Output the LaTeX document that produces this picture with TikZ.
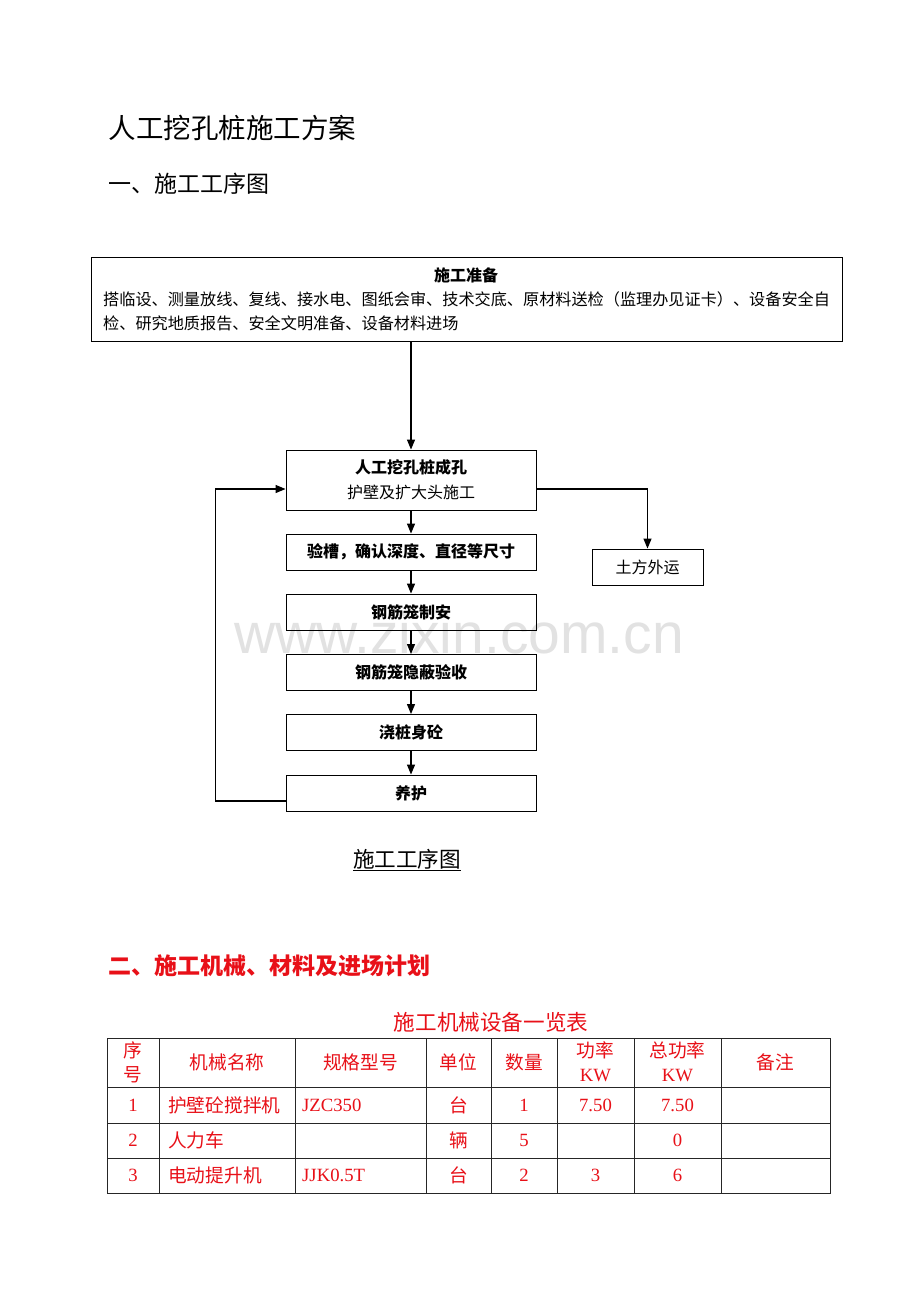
\documentclass[tikz,border=0pt]{standalone}
\usepackage{fontspec}
\setmainfont{Liberation Serif}
\setsansfont{Liberation Sans}
\newfontfamily\cjk{Noto Sans CJK SC}
\usetikzlibrary{arrows.meta}
\definecolor{planred}{RGB}{232,16,24}
\definecolor{markgray}{RGB}{226,226,226}

\begin{document}
\begin{tikzpicture}[x=1pt,y=-1pt,
    box/.style={draw,line width=0.9pt,inner sep=0pt,font=\cjk\fontsize{16}{25}\selectfont},
    flow/.style={-{Triangle[length=10pt,width=8pt]},line width=1.2pt},
    cell/.style={text=planred,inner sep=0pt,align=center,font=\fontsize{18.7}{24}\selectfont}]
  \useasboundingbox[fill=white] (0,0) rectangle (920,1302);

  \node[markgray,font=\sffamily\fontsize{57}{57}\selectfont] (mark) at (459,633) {www.zixin.com.cn};

  \node[anchor=west,font=\cjk\fontsize{27.5}{30}\selectfont] (title) at (105,128) {人工挖孔桩施工方案};
  \node[anchor=west,font=\cjk\fontsize{23}{26}\selectfont] (sec1) at (105,184) {一、施工工序图};

  \begin{scope}
    \node[box,minimum width=751pt,minimum height=84pt] (prep) at (466.5,299) {};
    \node[font=\cjk\bfseries\fontsize{16}{16}\selectfont] (preptitle) at (466,275) {施工准备};
    \node[anchor=west,inner sep=0pt,font=\cjk\fontsize{16.15}{16}\selectfont] (prepa) at (103,299) {搭临设、测量放线、复线、接水电、图纸会审、技术交底、原材料送检（监理办见证卡）、设备安全自};
    \node[anchor=west,inner sep=0pt,font=\cjk\fontsize{16.15}{16}\selectfont] (prepb) at (103,323) {检、研究地质报告、安全文明准备、设备材料进场};

    \node[box,align=center,minimum width=250pt,minimum height=60pt] (dig) at (411,480) {{\bfseries 人工挖孔桩成孔}\\护壁及扩大头施工};
    \node[box,minimum width=250pt,minimum height=36pt] (check) at (411,552) {\bfseries 验槽，确认深度、直径等尺寸};
    \node[box,minimum width=250pt,minimum height=36pt] (cage) at (411,612) {\bfseries 钢筋笼制安};
    \node[box,minimum width=250pt,minimum height=36pt] (accept) at (411,672.5) {\bfseries 钢筋笼隐蔽验收};
    \node[box,minimum width=250pt,minimum height=36pt] (pour) at (411,732.5) {\bfseries 浇桩身砼};
    \node[box,minimum width=250pt,minimum height=36pt] (cure) at (411,793) {\bfseries 养护};
    \node[box,minimum width=111pt,minimum height=36pt] (haul) at (647.5,567) {土方外运};

    \draw[flow] (prep.south -| dig.north) -- (dig.north);
    \draw[flow] (dig) -- (check);
    \draw[flow] (check) -- (cage);
    \draw[flow] (cage) -- (accept);
    \draw[flow] (accept) -- (pour);
    \draw[flow] (pour) -- (cure);
    \draw[flow] ([yshift=-9pt]dig.east) -| (haul.north);
    \draw[flow] ([yshift=-8pt]cure.west) -- ++(-70,0) |- ([yshift=-9pt]dig.west);

    \node[font=\cjk\fontsize{21.6}{24}\selectfont] (caption) at (407,860) {\underline{施工工序图}};
  \end{scope}

  \node[anchor=west,text=planred,font=\cjk\bfseries\fontsize{23}{26}\selectfont] (sec2) at (105,966) {二、施工机械、材料及进场计划};
  \node[text=planred,font=\cjk\fontsize{21.6}{24}\selectfont] (tabtitle) at (491,1022) {施工机械设备一览表};

  \begin{scope}[line width=1pt,black!85]
    \draw (107,1038) rectangle (830,1193);
    \foreach \x in {159,295,426,491,557,634,721}
      \draw (\x,1038) -- (\x,1193);
    \foreach \y in {1087,1123,1158}
      \draw (107,\y) -- (830,\y);
  \end{scope}

  \node[cell] (hno) at (133,1062) {{\cjk 序}\\{\cjk 号}};
  \node[cell] (hname) at (227,1062) {\cjk 机械名称};
  \node[cell] (hspec) at (360.5,1062) {\cjk 规格型号};
  \node[cell] (hunit) at (458.5,1062) {\cjk 单位};
  \node[cell] (hqty) at (524,1062) {\cjk 数量};
  \node[cell] (hpow) at (595.5,1062) {{\cjk 功率}\\KW};
  \node[cell] (htot) at (677.5,1062) {{\cjk 总功率}\\KW};
  \node[cell] (hnote) at (775.5,1062) {\cjk 备注};

  \node[cell] (ano) at (133,1105) {1};
  \node[cell,anchor=west] (aname) at (168,1105) {\cjk 护壁砼搅拌机};
  \node[cell,anchor=west] (aspec) at (302,1105) {JZC350};
  \node[cell] (aunit) at (458.5,1105) {\cjk 台};
  \node[cell] (aqty) at (524,1105) {1};
  \node[cell] (apow) at (595.5,1105) {7.50};
  \node[cell] (atot) at (677.5,1105) {7.50};

  \node[cell] (bno) at (133,1140) {2};
  \node[cell,anchor=west] (bname) at (168,1140) {\cjk 人力车};
  \node[cell] (bunit) at (458.5,1140) {\cjk 辆};
  \node[cell] (bqty) at (524,1140) {5};
  \node[cell] (btot) at (677.5,1140) {0};

  \node[cell] (cno) at (133,1175) {3};
  \node[cell,anchor=west] (cname) at (168,1175) {\cjk 电动提升机};
  \node[cell,anchor=west] (cspec) at (302,1175) {JJK0.5T};
  \node[cell] (cunit) at (458.5,1175) {\cjk 台};
  \node[cell] (cqty) at (524,1175) {2};
  \node[cell] (cpow) at (595.5,1175) {3};
  \node[cell] (ctot) at (677.5,1175) {6};
\end{tikzpicture}
\end{document}
